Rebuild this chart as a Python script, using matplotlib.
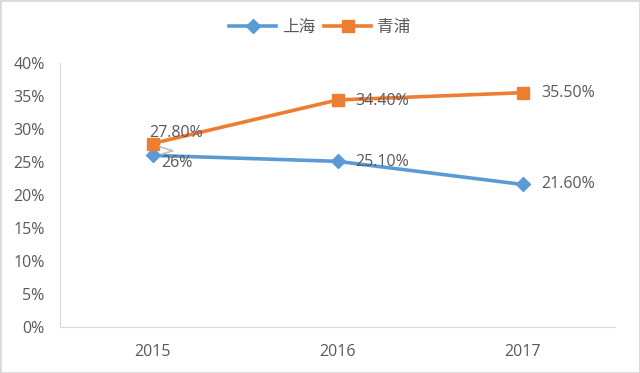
import matplotlib
matplotlib.use("Agg")
import matplotlib.pyplot as plt
from matplotlib.ticker import PercentFormatter

plt.rcParams['font.family'] = ['Open Sans', 'Noto Sans CJK SC', 'DejaVu Sans']

years = ["2015", "2016", "2017"]
shanghai = [26.0, 25.1, 21.6]
qingpu = [27.8, 34.4, 35.5]
shanghai_labels = ["26%", "25.10%", "21.60%"]
qingpu_labels = ["27.80%", "34.40%", "35.50%"]

BLUE = "#5B9BD5"
ORANGE = "#ED7D31"
GRAY = "#595959"

fig = plt.figure(figsize=(6.4, 3.73), dpi=100)
ax = fig.add_axes([60 / 640, 1 - 327 / 373, 555 / 640, 264 / 373])

x = list(range(len(years)))
ax.plot(x, shanghai, color=BLUE, lw=2.6, marker="D", ms=7, label="上海")
ax.plot(x, qingpu, color=ORANGE, lw=2.6, marker="s", ms=9, label="青浦")

offsets_sh = [(9, -8), (18, -1), (19, 0)]
offsets_qp = [(-3, 11), (18, -1), (19, 0)]
for i in x:
    ax.annotate(shanghai_labels[i], (i, shanghai[i]), xytext=offsets_sh[i],
                textcoords="offset pixels", ha="left", va="center",
                fontsize=11.5, color=GRAY)
    ax.annotate(qingpu_labels[i], (i, qingpu[i]), xytext=offsets_qp[i],
                textcoords="offset pixels", ha="left", va="center",
                fontsize=11.5, color=GRAY)

# leader line near 2015
ax.plot([0.04, 0.11, 0.05], [27.3, 26.7, 26.2], color="#BFBFBF", lw=1.2)

ax.set_xlim(-0.5, 2.5)
ax.set_ylim(0, 40)
ax.set_xticks(x)
ax.set_xticklabels(years)
ax.set_yticks(range(0, 41, 5))
ax.yaxis.set_major_formatter(PercentFormatter(decimals=0))
ax.tick_params(length=0, colors=GRAY, labelsize=11.5)
ax.tick_params(axis="y", pad=11)
ax.tick_params(axis="x", pad=12)
for s in ["top", "right"]:
    ax.spines[s].set_visible(False)
for s in ["left", "bottom"]:
    ax.spines[s].set_color("#D9D9D9")

fig.legend(loc="center", bbox_to_anchor=(0.5, 1 - 28 / 373), ncol=2,
           frameon=False, fontsize=12, handlelength=2.8, columnspacing=0.5,
           handletextpad=0.4, labelcolor=GRAY)

fig.patches.append(plt.Rectangle((0, 0), 1, 1, transform=fig.transFigure,
                                 fill=False, ec="#D9D9D9", lw=2))
fig.savefig("out.png", dpi=100)
